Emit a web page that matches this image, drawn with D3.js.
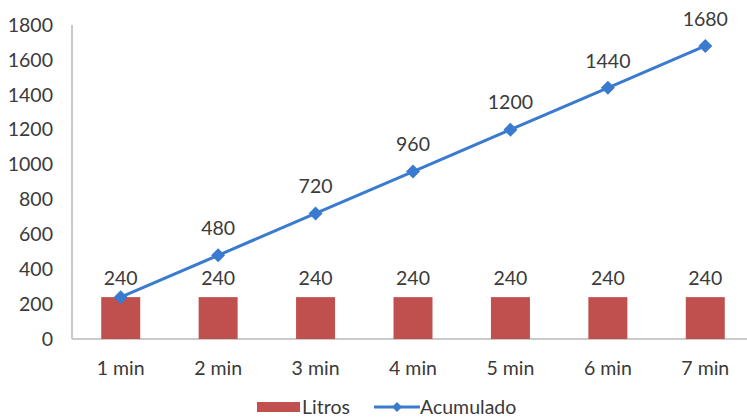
<!DOCTYPE html>
<html><head><meta charset="utf-8">
<script src="https://cdn.jsdelivr.net/npm/d3@7"></script>
<style>
html,body{margin:0;padding:0;background:#fff;}
svg{display:block;font-family:Lato, "Open Sans", sans-serif;}
</style></head>
<body>
<svg id="c" width="747" height="418"></svg>
<script>
const categories = ["1 min","2 min","3 min","4 min","5 min","6 min","7 min"];
const litros = [240,240,240,240,240,240,240];
const acumulado = [240,480,720,960,1200,1440,1680];
const yTicks = [0,200,400,600,800,1000,1200,1400,1600,1800];

(function(){
const svg = d3.select("#c");
const pL = 72, pR = 754, pT = 25, pB = 339;
const xc = d3.scaleBand().domain(categories).range([pL, pR]);
const y = d3.scaleLinear().domain([0,1800]).range([pB, pT]);
const txt = "#3a3a3a", fs = 19.5;

// axes lines
svg.append("line").attr("x1",pL).attr("x2",pL).attr("y1",pT).attr("y2",pB).attr("stroke","#b8b8b8").attr("stroke-width",1.5);
svg.append("line").attr("x1",pL).attr("x2",747).attr("y1",pB).attr("y2",pB).attr("stroke","#b8b8b8").attr("stroke-width",1.5);

// y tick labels
svg.append("g").selectAll("text").data(yTicks).join("text")
  .attr("x",53).attr("y",d=>y(d)).attr("dy","0.35em").attr("text-anchor","end")
  .attr("fill",txt).attr("font-size",fs).text(d=>d);

// x labels
svg.append("g").selectAll("text").data(categories).join("text")
  .attr("x",d=>xc(d)+xc.bandwidth()/2).attr("y",368).attr("dy","0.35em").attr("text-anchor","middle")
  .attr("fill",txt).attr("font-size",fs).text(d=>d);

// bars
const bw = 39;
const cx = i=>xc(categories[i])+xc.bandwidth()/2;
svg.append("g").selectAll("rect").data(litros).join("rect")
  .attr("x",(d,i)=>cx(i)-bw/2).attr("width",bw)
  .attr("y",d=>y(d)).attr("height",d=>pB-y(d)).attr("fill","#c0504d");

svg.append("g").selectAll("text").data(litros).join("text")
  .attr("x",(d,i)=>cx(i)).attr("y",d=>y(d)-19).attr("dy","0.35em")
  .attr("text-anchor","middle").attr("fill",txt).attr("font-size",fs).text(d=>d);

// line
const line = d3.line().x((d,i)=>cx(i)).y(d=>y(d));
svg.append("path").datum(acumulado).attr("d",line).attr("fill","none").attr("stroke","#3a7bd0").attr("stroke-width",3);
const dm = 7;
svg.append("g").selectAll("path").data(acumulado).join("path")
  .attr("d",(d,i)=>`M${cx(i)},${y(d)-dm}L${cx(i)+dm},${y(d)}L${cx(i)},${y(d)+dm}L${cx(i)-dm},${y(d)}Z`)
  .attr("fill","#3a7bd0");
svg.append("g").selectAll("text").data(acumulado.slice(1)).join("text")
  .attr("x",(d,i)=>cx(i+1)).attr("y",d=>y(d)-27).attr("dy","0.35em")
  .attr("text-anchor","middle").attr("fill",txt).attr("font-size",fs).text(d=>d);

// legend
const lg = svg.append("g");
lg.append("rect").attr("x",257).attr("y",402).attr("width",43).attr("height",10).attr("fill","#c0504d");
lg.append("text").attr("x",302).attr("y",407).attr("dy","0.35em").attr("fill",txt).attr("font-size",fs).text("Litros");
lg.append("line").attr("x1",374).attr("x2",420).attr("y1",407).attr("y2",407).attr("stroke","#3a7bd0").attr("stroke-width",3);
lg.append("path").attr("d","M397,402L402,407L397,412L392,407Z").attr("fill","#3a7bd0");
lg.append("text").attr("x",420).attr("y",407).attr("dy","0.35em").attr("fill",txt).attr("font-size",fs).text("Acumulado");
})();
</script>
</body></html>
